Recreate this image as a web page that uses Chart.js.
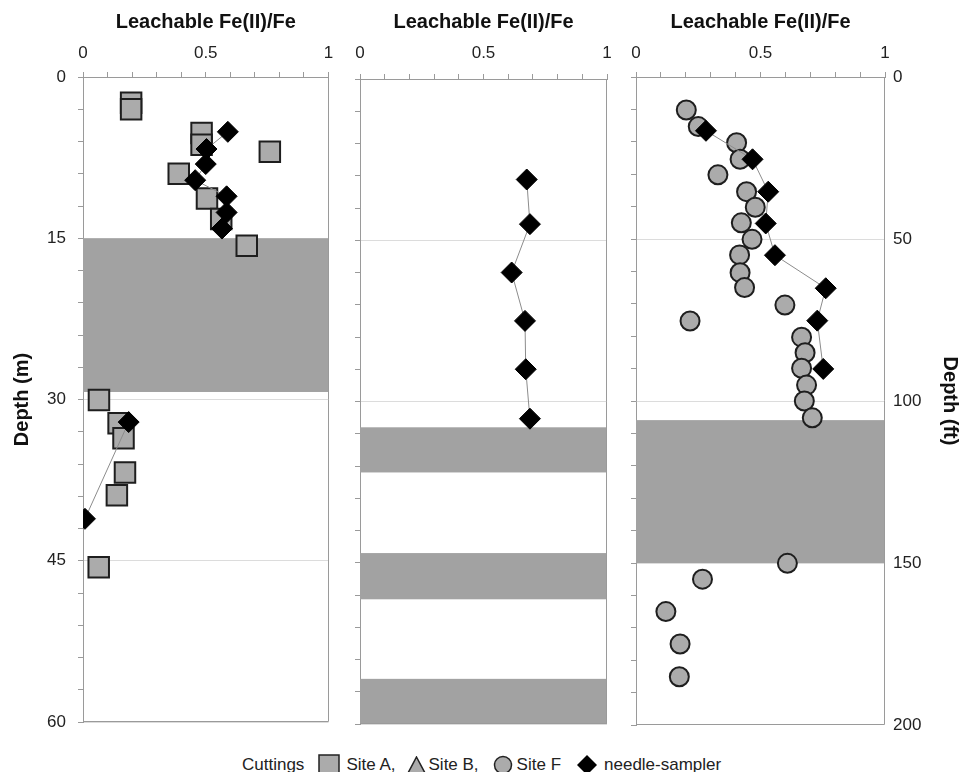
<!DOCTYPE html>
<html>
<head>
<meta charset="utf-8">
<script src="https://cdn.jsdelivr.net/npm/chart.js@4.4.1/dist/chart.umd.min.js"></script>
<style>
  body { margin:0; background:#fff; width:960px; height:772px; position:relative; overflow:hidden;
         font-family:"Liberation Sans", Arial, sans-serif; color:#222; }
  canvas { position:absolute; top:0; }
  #p1 { left:0; }
  #p2 { left:345px; }
  #p3 { left:620px; }
  #legend { position:absolute; left:242px; top:754px; height:22px; display:flex; align-items:center;
            font-size:17px; line-height:22px; white-space:nowrap; }
  #legend svg { display:block; }
</style>
</head>
<body>
<canvas id="p1" width="345" height="740"></canvas>
<canvas id="p2" width="275" height="740"></canvas>
<canvas id="p3" width="340" height="740"></canvas>
<div id="legend">
  <span>Cuttings</span>
  <svg width="22" height="22" style="margin-left:14px"><rect x="1" y="1" width="20" height="20" fill="#ababab" stroke="#222" stroke-width="1.5"/></svg>
  <span style="margin-left:6px">Site A,</span>
  <svg width="19" height="18" style="margin-left:11px"><polygon points="9.5,1 18,17 1,17" fill="#ababab" stroke="#222" stroke-width="1.5"/></svg>
  <span style="margin-left:3px">Site B,</span>
  <svg width="20" height="20" style="margin-left:14px"><circle cx="10" cy="10" r="8.5" fill="#ababab" stroke="#222" stroke-width="1.5"/></svg>
  <span style="margin-left:4px">Site F</span>
  <svg width="22" height="22" style="margin-left:15px"><polygon points="11,1 21,11 11,21 1,11" fill="#000"/></svg>
  <span style="margin-left:6px">needle-sampler</span>
</div>
<script>
// panel 1 : Site A cuttings + needle-sampler, depth in m
const siteA_fe    = [0.196, 0.196, 0.483, 0.483, 0.761, 0.39, 0.505, 0.563, 0.667, 0.065, 0.145, 0.165, 0.171, 0.138, 0.064];
const siteA_depth = [2.4, 3.0, 5.2, 6.3, 6.95, 9.0, 11.3, 13.2, 15.7, 30.05, 32.2, 33.6, 36.8, 38.9, 45.6];
// null = break in the needle line (no samples inside the gray zone)
const needleA_fe    = [0.59, 0.503, 0.5, 0.457, 0.585, 0.585, 0.566, null, 0.186, 0.008];
const needleA_depth = [5.1, 6.7, 8.1, 9.6, 11.1, 12.6, 14.1, null, 32.1, 41.1];
const bandsA = [[15, 29.3]];

// panel 2 : needle-sampler, depth in m
const needleB_fe    = [0.675, 0.688, 0.614, 0.668, 0.671, 0.688];
const needleB_depth = [9.35, 13.5, 18.0, 22.5, 27.0, 31.6];
const bandsB = [[32.4, 36.6], [44.1, 48.4], [55.8, 60]];

// panel 3 : Site F cuttings + needle-sampler, depth in ft
const siteF_fe    = [0.202, 0.25, 0.404, 0.418, 0.329, 0.444, 0.479, 0.423, 0.466, 0.416, 0.418, 0.436, 0.598, 0.217,
                     0.665, 0.679, 0.665, 0.685, 0.676, 0.708, 0.608, 0.267, 0.12, 0.177, 0.174];
const siteF_depth = [10.2, 15.3, 20.3, 25.4, 30.2, 35.4, 40.2, 45.0, 50.1, 54.9, 60.4, 65.0, 70.4, 75.3,
                     80.3, 85.1, 89.9, 95.1, 100.0, 105.2, 150.1, 155.0, 165.0, 175.0, 185.1];
const needleF_fe    = [0.281, 0.468, 0.531, 0.521, 0.558, 0.762, 0.728, 0.752];
const needleF_depth = [16.6, 25.4, 35.4, 45.2, 55.0, 65.2, 75.2, 90.1];
const bandsF = [[105.9, 150]];

const AXIS = '#9a9a9a', GRID = '#dcdcdc', BAND = '#a2a2a2';
Chart.defaults.font.family = '"Liberation Sans", Arial, sans-serif';
Chart.defaults.color = '#222';

const pts = (xs, ys) => xs.map((x, i) => ({x: x, y: ys[i]}));

// stop tick labels from pushing the plot area in; layout padding decides it
function noLabelPad(s) {
  s.paddingLeft = s.paddingRight = s.paddingTop = s.paddingBottom = 0;
}

const bandsPlugin = {
  id: 'bands',
  beforeDatasetsDraw(chart, args, opts) {
    const {ctx, chartArea: a} = chart;
    const s = chart.scales[opts.axis];
    ctx.save();
    ctx.fillStyle = BAND;
    opts.ranges.forEach(r => {
      const y1 = s.getPixelForValue(r[0]), y2 = s.getPixelForValue(r[1]);
      ctx.fillRect(a.left, y1, a.right - a.left, y2 - y1);
    });
    // right and bottom edges of the frame
    ctx.strokeStyle = AXIS;
    ctx.lineWidth = 1;
    ctx.beginPath();
    ctx.moveTo(Math.round(a.right) - 0.5, a.top);
    ctx.lineTo(Math.round(a.right) - 0.5, Math.round(a.bottom) - 0.5);
    ctx.lineTo(a.left, Math.round(a.bottom) - 0.5);
    ctx.stroke();
    ctx.restore();
  }
};

function xAxis(height, pad) {
  return {
    type: 'linear', position: 'top', min: 0, max: 1,
    ticks: {stepSize: 0.1, autoSkip: false, maxRotation: 0, padding: pad, font: {size: 17},
      callback: v => Math.abs(v * 2 - Math.round(v * 2)) < 1e-6 ? String(Math.round(v * 2) / 2) : ''},
    grid: {drawOnChartArea: false, tickLength: 5, color: AXIS},
    border: {color: AXIS},
    title: {display: true, text: 'Leachable Fe(II)/Fe', color: '#111', font: {size: 20, weight: 'bold'},
            padding: {top: 10, bottom: 0}},
    afterFit: s => { s.height = height; noLabelPad(s); }
  };
}

function mAxis(width, labels, gridLines) {
  return {
    type: 'linear', axis: 'y', position: 'left', reverse: true, min: 0, max: 60,
    ticks: {stepSize: 3, autoSkip: false, padding: 12, font: {size: 17},
      callback: v => (labels && v % 15 === 0) ? String(v) : ''},
    grid: {tickLength: 5, tickColor: AXIS, drawOnChartArea: gridLines,
      color: c => (c.tick && c.tick.value % 15 === 0) ? GRID : 'rgba(0,0,0,0)'},
    border: {color: AXIS},
    title: {display: labels, text: 'Depth (m)', color: '#111', font: {size: 20, weight: 'bold'},
            padding: {top: 10, bottom: 0}},
    afterFit: s => { s.width = width; noLabelPad(s); }
  };
}

const squareDs = data => ({data, pointStyle: 'rect', pointRadius: 14.5, pointBackgroundColor: '#ababab',
  pointBorderColor: '#1e1e1e', pointBorderWidth: 2, showLine: false});
const circleDs = data => ({data, pointStyle: 'circle', pointRadius: 9.5, pointBackgroundColor: '#ababab',
  pointBorderColor: '#1e1e1e', pointBorderWidth: 2, showLine: false});
const needleDs = data => ({data, pointStyle: 'rectRot', pointRadius: 10.5, pointBackgroundColor: '#000',
  pointBorderColor: '#000', pointBorderWidth: 1, showLine: true, spanGaps: false,
  borderColor: '#8c8c8c', borderWidth: 1, tension: 0});

function panel(id, datasets, scales, bandAxis, bands, padding) {
  return new Chart(document.getElementById(id), {
    type: 'scatter',
    data: {datasets},
    options: {
      responsive: false, animation: false, devicePixelRatio: 1,
      layout: {padding},
      scales,
      plugins: {legend: {display: false}, tooltip: {enabled: false},
                bands: {axis: bandAxis, ranges: bands}}
    },
    plugins: [bandsPlugin]
  });
}

panel('p1',
  [needleDs(pts(needleA_fe, needleA_depth)), squareDs(pts(siteA_fe, siteA_depth))],
  {x: xAxis(77, 8), y: mAxis(83, true, true)},
  'y', bandsA, {left: 0, right: 13, top: 0, bottom: 18});

panel('p2',
  [needleDs(pts(needleB_fe, needleB_depth))],
  {x: xAxis(79, 10), y: mAxis(15, false, true)},
  'y', bandsB, {left: 0, right: 13, top: 0, bottom: 16});

panel('p3',
  [Object.assign(needleDs(pts(needleF_fe, needleF_depth)), {yAxisID: 'yft'}),
   Object.assign(circleDs(pts(siteF_fe, siteF_depth)), {yAxisID: 'yft'})],
  {
    x: xAxis(77, 8),
    y: mAxis(16, false, false),
    yft: {
      type: 'linear', axis: 'y', position: 'right', reverse: true, min: 0, max: 200,
      ticks: {stepSize: 50, padding: 8, font: {size: 17}},
      grid: {drawTicks: false, color: c => (c.tick && c.tick.value > 0 && c.tick.value < 200) ? GRID : 'rgba(0,0,0,0)'},
      border: {display: false},
      title: {display: true, text: 'Depth (ft)', color: '#111', font: {size: 20, weight: 'bold', lineHeight: 1},
              padding: {top: 0, bottom: 0}},
      afterFit: s => { s.width = 75; noLabelPad(s); }
    }
  },
  'yft', bandsF, {left: 0, right: 0, top: 0, bottom: 15});
</script>
</body>
</html>
